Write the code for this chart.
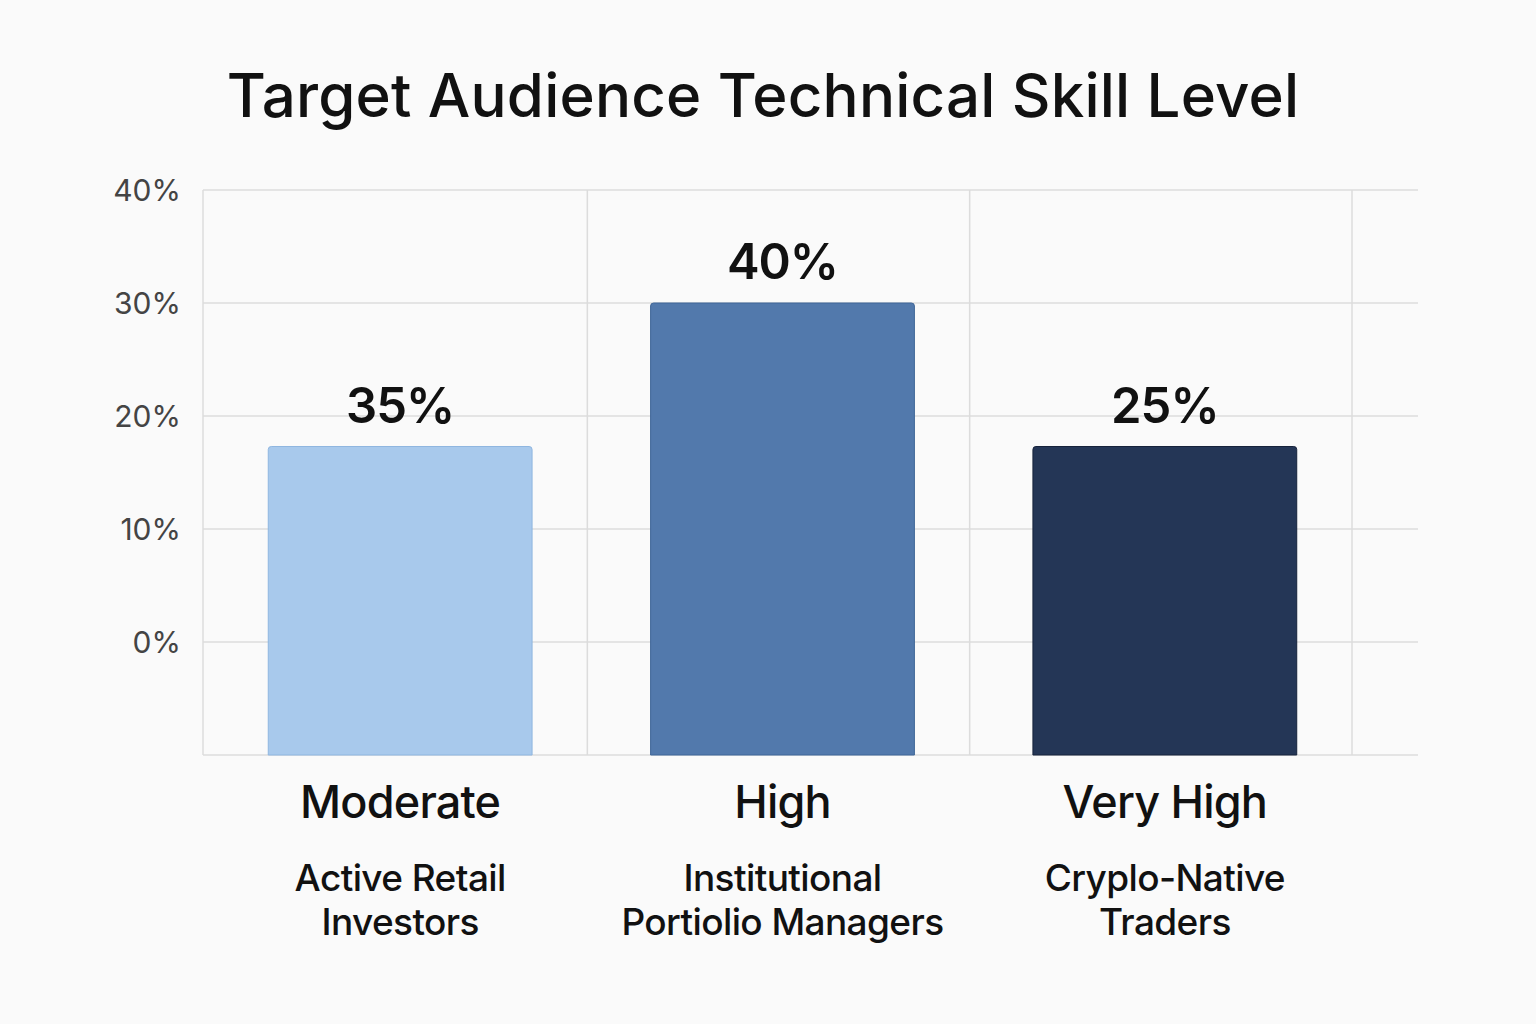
<!DOCTYPE html>
<html>
<head>
<meta charset="utf-8">
<script src="https://cdn.jsdelivr.net/npm/d3@7"></script>
<style>
  html, body { margin: 0; padding: 0; background: #fafafa; }
  svg { display: block; font-family: Inter, "Noto Sans", sans-serif; }
</style>
</head>
<body>
<svg id="chart"></svg>
<script>
const categories = ["Moderate", "High", "Very High"];
const audiences = [
  ["Active Retail", "Investors"],
  ["Institutional", "Portiolio Managers"],
  ["Cryplo-Native", "Traders"]
];
// bar heights as drawn against the axis (they don't match the printed labels)
const barValues = [17.3, 30, 17.3];
const valueLabels = ["35%", "40%", "25%"];
const yTicks = [0, 10, 20, 30, 40];
const colors = ["#a8c9ec", "#5279ac", "#243656"];
const strokes = ["#8fb6e0", "#3f6698", "#16223b"];

const size = { width: 1536, height: 1024 };
const margin = { top: 190, right: 118, bottom: 269, left: 203 };

const svg = d3
  .select("#chart")
  .attr("width", size.width)
  .attr("height", size.height);

svg
  .append("rect")
  .attr("width", size.width)
  .attr("height", size.height)
  .attr("fill", "#fafafa");

const x = d3
  .scaleBand()
  .domain(categories)
  .range([208, 1355])
  .padding(0);

const y = d3
  .scaleLinear()
  .domain([-10, 40])
  .range([size.height - margin.bottom, margin.top]);

// horizontal grid
svg
  .append("g")
  .selectAll("line")
  .data([-10].concat(yTicks))
  .enter()
  .append("line")
  .attr("x1", margin.left)
  .attr("x2", size.width - margin.right)
  .attr("y1", (d) => y(d))
  .attr("y2", (d) => y(d))
  .attr("stroke", "#dcdcdc")
  .attr("stroke-width", 1.5);

// vertical grid
const vlines = [margin.left].concat(categories.map((c) => x(c) + x.bandwidth() - 3));
svg
  .append("g")
  .selectAll("line")
  .data(vlines)
  .enter()
  .append("line")
  .attr("x1", (d) => d)
  .attr("x2", (d) => d)
  .attr("y1", y(40))
  .attr("y2", y(-10))
  .attr("stroke", "#dcdcdc")
  .attr("stroke-width", 1.5);

// y tick labels
svg
  .append("g")
  .selectAll("text")
  .data(yTicks)
  .enter()
  .append("text")
  .attr("x", 181)
  .attr("y", (d) => y(d) + 11)
  .attr("text-anchor", "end")
  .attr("fill", "#444")
  .style("font-size", "30px")
  .text((d) => d + "%");

const barW = x.bandwidth() * 0.69;
const cx = (i) => x(categories[i]) + x.bandwidth() / 2 + 1;

svg
  .append("g")
  .selectAll("path")
  .data(barValues)
  .enter()
  .append("path")
  .attr("d", (d, i) => {
    const x0 = cx(i) - barW / 2, x1 = cx(i) + barW / 2;
    const t = y(d), b = y(-10), r = 3;
    return `M${x0},${b}V${t + r}Q${x0},${t} ${x0 + r},${t}H${x1 - r}Q${x1},${t} ${x1},${t + r}V${b}Z`;
  })
  .attr("fill", (d, i) => colors[i])
  .attr("stroke", (d, i) => strokes[i])
  .attr("stroke-width", 1);

// value labels
svg
  .append("g")
  .selectAll("text")
  .data(barValues)
  .enter()
  .append("text")
  .attr("x", (d, i) => cx(i))
  .attr("y", (d) => y(d) - 24)
  .attr("text-anchor", "middle")
  .attr("fill", "#111")
  .style("font-size", "49px")
  .style("font-weight", 600)
  .style("letter-spacing", "-1px")
  .text((d, i) => valueLabels[i]);

// category labels
svg
  .append("g")
  .selectAll("text")
  .data(categories)
  .enter()
  .append("text")
  .attr("x", (d, i) => cx(i))
  .attr("y", 818)
  .attr("text-anchor", "middle")
  .attr("fill", "#111")
  .style("font-size", "45px")
  .style("font-weight", 500)
  .style("letter-spacing", "-0.8px")
  .text((d) => d);

const sub = svg
  .append("g")
  .selectAll("text")
  .data(audiences)
  .enter()
  .append("text")
  .attr("text-anchor", "middle")
  .attr("fill", "#111")
  .style("font-size", "37px")
  .style("font-weight", 500)
  .style("letter-spacing", "-0.6px");
sub
  .selectAll("tspan")
  .data((d, i) => d.map((t) => ({ t, i })))
  .enter()
  .append("tspan")
  .attr("x", (d) => cx(d.i))
  .attr("y", (d, j) => 891 + j * 44)
  .text((d) => d.t);

svg
  .append("text")
  .attr("x", 763)
  .attr("y", 117)
  .attr("text-anchor", "middle")
  .attr("fill", "#111")
  .style("font-size", "60px")
  .style("font-weight", 500)
  .style("letter-spacing", "0.2px")
  .text("Target Audience Technical Skill Level");
</script>
</body>
</html>
